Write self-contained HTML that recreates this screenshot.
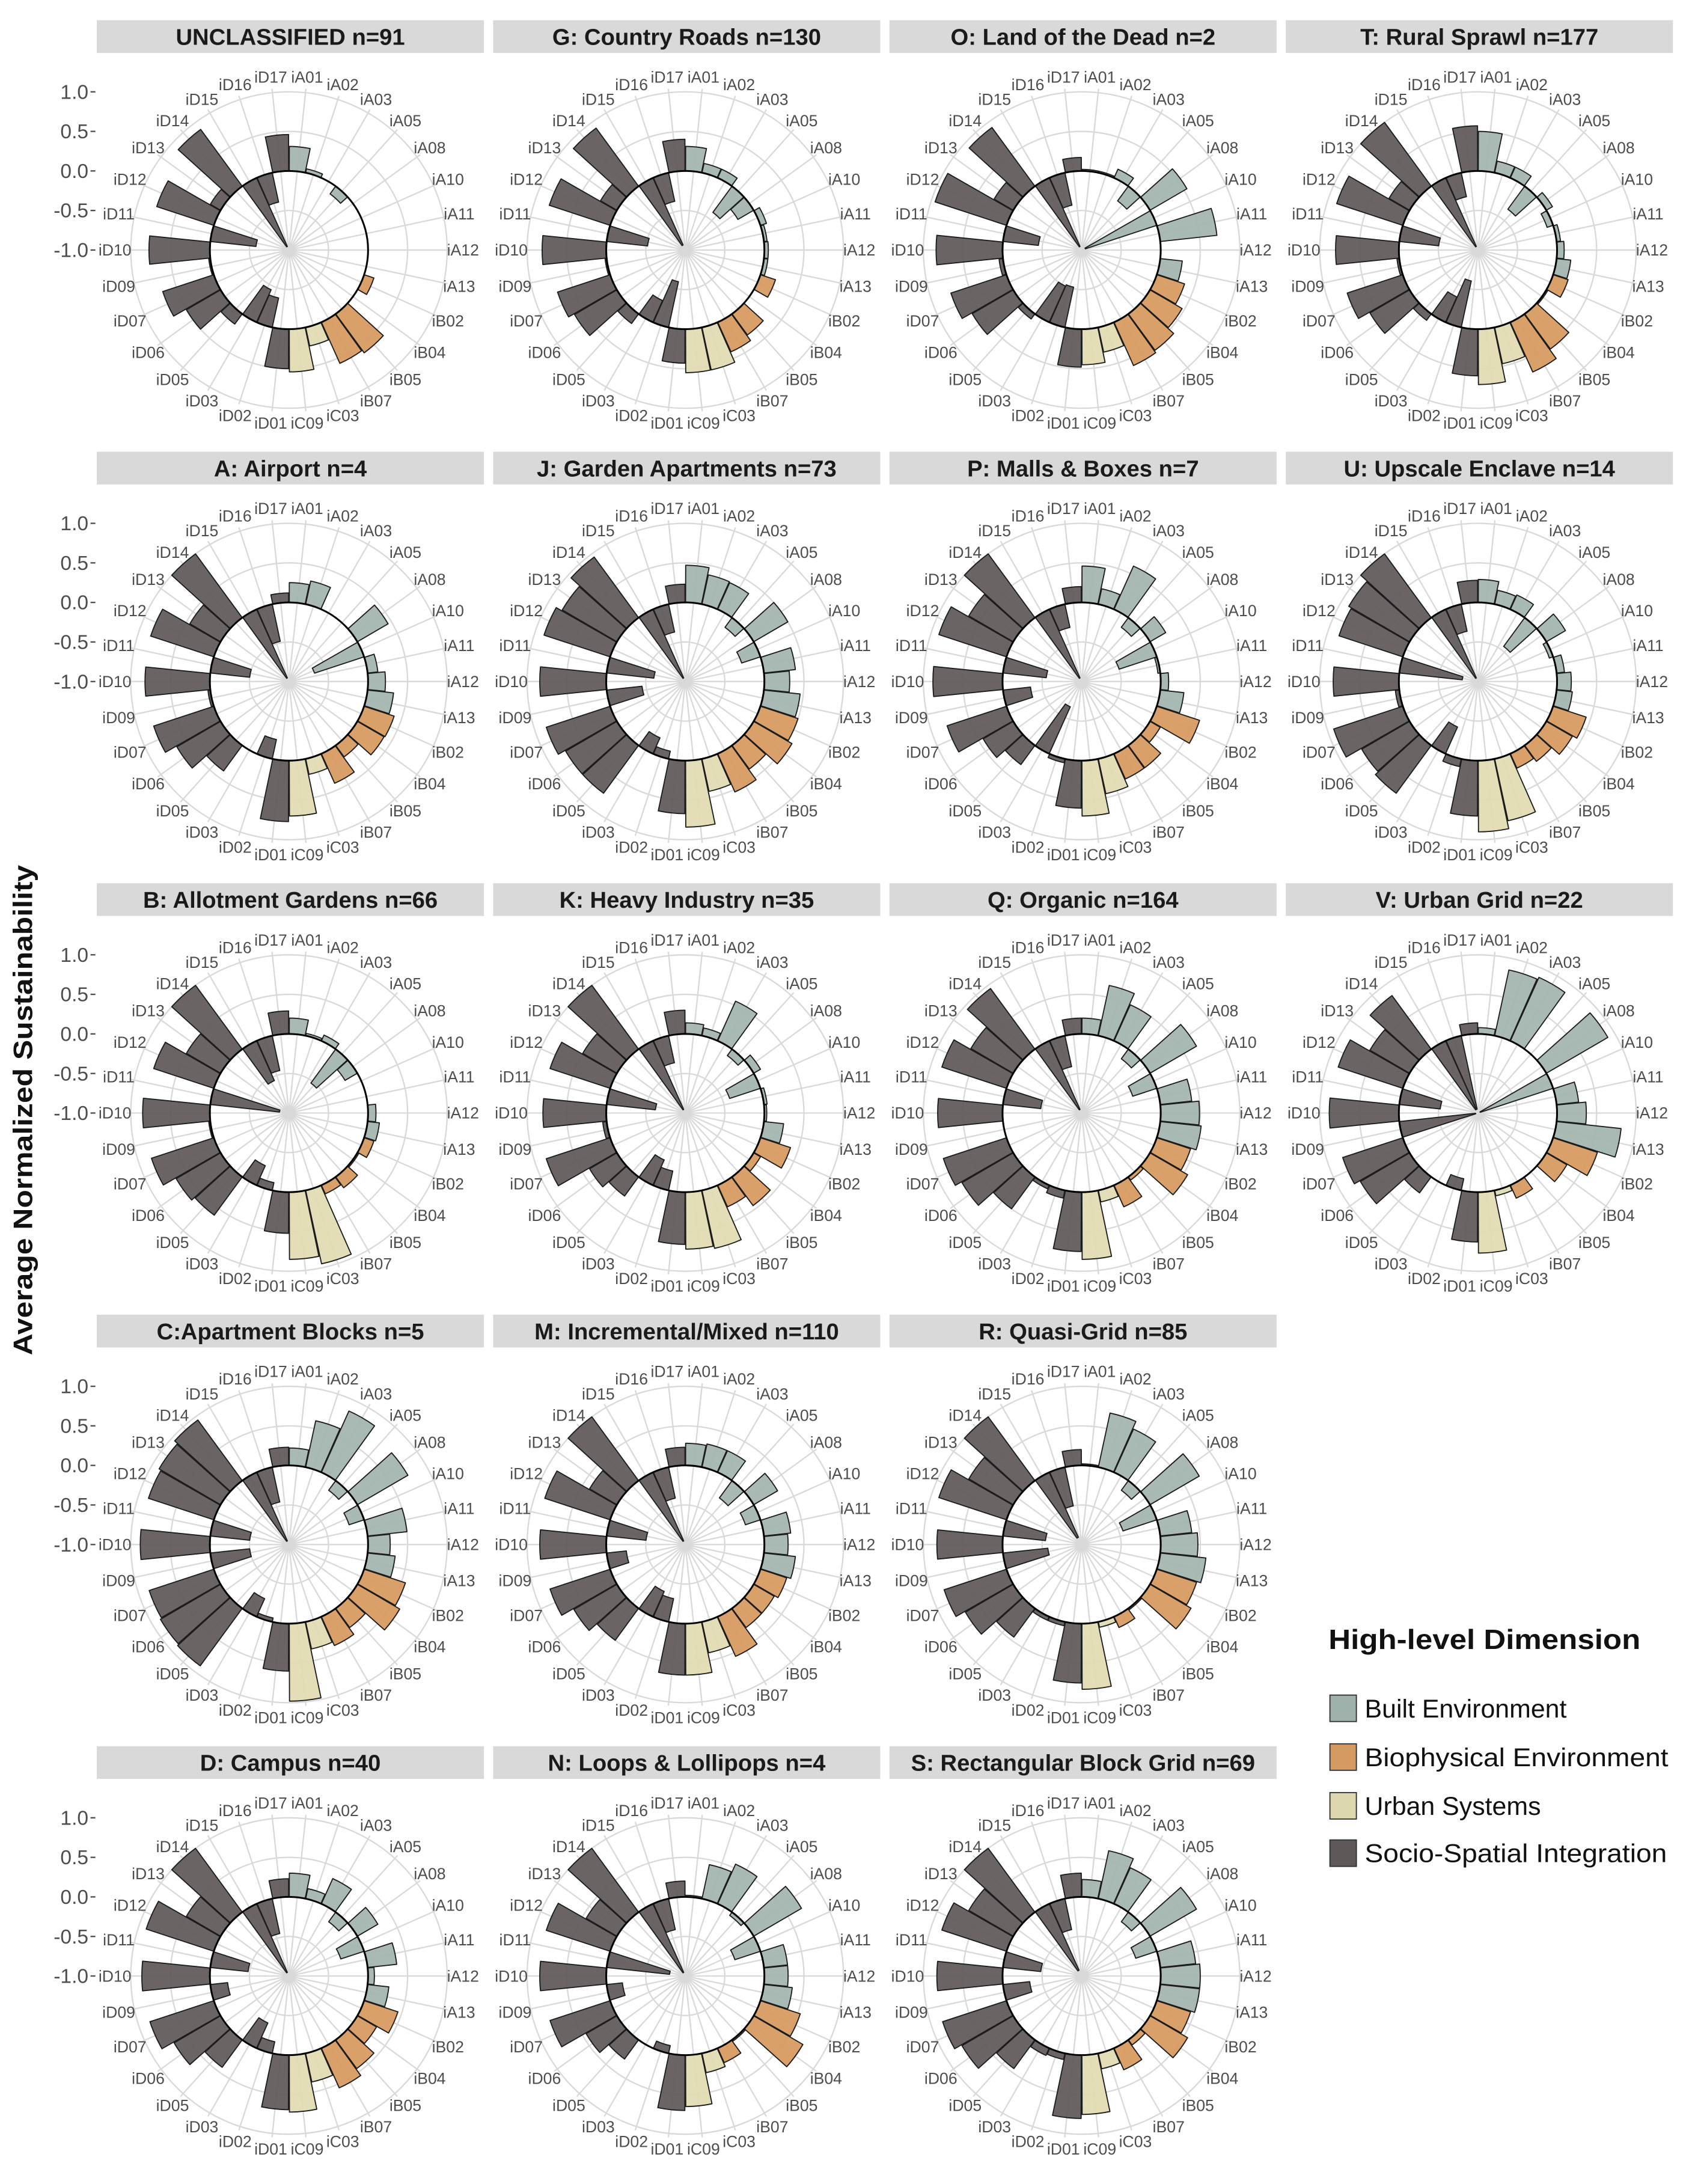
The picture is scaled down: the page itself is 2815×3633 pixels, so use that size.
<!DOCTYPE html>
<html>
<head>
<meta charset="utf-8">
<style>
  html, body { margin:0; padding:0; background:#ffffff; }
  svg { display:block; }
  text { font-family: "Liberation Sans", Arial, sans-serif; }
</style>
</head>
<body>
<svg id="chart" xmlns="http://www.w3.org/2000/svg" width="2815" height="3633" viewBox="0 0 1215 1568">
  <rect x="0" y="0" width="1215" height="1568" fill="#ffffff"/>
  <text x="0" y="0" transform="translate(23,797) rotate(-90)" text-anchor="middle" font-weight="bold" font-size="19" fill="#111" textLength="352" lengthAdjust="spacingAndGlyphs">Average Normalized Sustainability</text>
  <g>
    <text x="954" y="1184" font-weight="bold" font-size="20" fill="#111" textLength="224" lengthAdjust="spacingAndGlyphs">High-level Dimension</text>
    <rect x="955" y="1217" width="19" height="19" fill="#9fb1ab" stroke="#333" stroke-width="0.8"/>
    <text x="980" y="1233" font-size="18.5" fill="#111">Built Environment</text>
    <rect x="955" y="1252" width="19" height="19" fill="#d49a62" stroke="#333" stroke-width="0.8"/>
    <text x="980" y="1268" font-size="18.5" fill="#111" textLength="218" lengthAdjust="spacingAndGlyphs">Biophysical Environment</text>
    <rect x="955" y="1287" width="19" height="19" fill="#ddd7b0" stroke="#333" stroke-width="0.8"/>
    <text x="980" y="1303" font-size="18.5" fill="#111">Urban Systems</text>
    <rect x="955" y="1321" width="19" height="19" fill="#5e5859" stroke="#333" stroke-width="0.8"/>
    <text x="980" y="1337" font-size="18.5" fill="#111" textLength="217" lengthAdjust="spacingAndGlyphs">Socio-Spatial Integration</text>
  </g>
  <g id="panels"></g>
</svg>
<script>
// ---- data ----
const categories = ["iA01","iA02","iA03","iA05","iA08","iA10","iA11","iA12","iA13","iB02","iB04","iB05","iB07","iC03","iC09","iD01","iD02","iD03","iD05","iD06","iD07","iD09","iD10","iD11","iD12","iD13","iD14","iD15","iD16","iD17"];
const radialTicks = [1.0, 0.5, 0.0, -0.5, -1.0];
const radialTickLabels = ["1.0", "0.5", "0.0", "-0.5", "-1.0"];
const panelTitles = ["UNCLASSIFIED n=91","G: Country Roads n=130","O: Land of the Dead n=2","T: Rural Sprawl n=177",
  "A: Airport n=4","J: Garden Apartments n=73","P: Malls & Boxes n=7","U: Upscale Enclave n=14",
  "B: Allotment Gardens n=66","K: Heavy Industry n=35","Q: Organic n=164","V: Urban Grid n=22",
  "C:Apartment Blocks n=5","M: Incremental/Mixed n=110","R: Quasi-Grid n=85",
  "D: Campus n=40","N: Loops & Lollipops n=4","S: Rectangular Block Grid n=69"];
const valsUnclassified = [0.31,0.05,0,-0.12,0,0,0,0,0,0.13,0,0.61,0.57,0.24,0.54,0.5,-0.38,-0.45,0.16,0.5,0.68,0.02,0.77,-0.58,0.76,0.15,0.89,-0.95,-0.38,0.46];
const valsG = [0.31,0.12,0.12,-0.41,-0.23,0.08,0.04,0.05,0.05,0.2,0,0.33,0.41,0.55,0.55,0.43,-0.59,-0.3,0.15,0.62,0.7,0.02,0.81,-0.52,0.81,0.24,0.91,-0.93,-0.37,0.4];
const valsO = [0.02,0.02,0.12,-0.23,0.54,-0.95,0.72,0,0.28,0.37,0.47,0.57,0.6,0.32,0.45,0.48,-0.52,-0.5,0.08,0.6,0.74,0.05,0.84,-0.45,0.95,0.28,0.92,-0.95,-0.42,0.17];
const valsT = [0.5,0.15,0.15,-0.36,0.09,-0.08,0.05,0.09,0.18,0.2,0.02,0.55,0.69,0.47,0.7,0.59,-0.6,-0.35,0.1,0.58,0.74,0.03,0.8,-0.5,0.88,0.3,1.0,-0.95,-0.31,0.57];
const valsA = [0.25,0.3,0,0,0.45,-0.66,0.13,0.22,0.33,0.4,0.39,0.18,0.41,0.2,0.7,0.77,-0.25,0,0.4,0.64,0.8,0.03,0.82,-0.5,0.84,0.45,1.0,-0.95,-0.48,0.12];
const valsJ = [0.47,0.38,0.37,-0.15,0.5,-0.25,0.4,0.32,0.46,0.5,0.56,0.37,0.53,0.42,0.84,0.67,-0.1,-0.22,0.75,0.75,0.85,-0.45,0.84,-0.6,0.88,0.8,0.95,-0.95,-0.36,0.23];
const valsP = [0.46,0.2,0.6,-0.15,0.23,-0.5,-0.03,0.1,0.3,0.57,0.15,0.35,0.35,0.45,0.7,0.6,0.05,-0.65,0.3,0.44,0.79,-0.35,0.88,-0.55,0.9,0.65,1.0,-0.95,-0.3,0.2];
const valsU = [0.29,0.18,0.2,-0.45,0.28,-0.05,0.1,0.18,0.2,0.44,0.38,0.25,0.2,0.8,0.9,0.7,0.1,-0.37,0.75,0.7,0.92,0.05,0.83,-0.8,0.85,0.89,1.0,-0.95,-0.35,0.28];
const valsB = [0.2,0.03,0.08,-0.53,-0.18,0,0,0.1,0.15,0.13,0.02,0.17,0.12,0.95,0.85,0.52,-0.1,-0.27,0.6,0.65,0.83,0.02,0.85,-0.88,0.8,0.5,1.0,-0.55,-0.45,0.29];
const valsK = [0.14,0.1,0.55,-0.1,0.1,-0.41,0.04,0.03,0.25,0.4,0.1,0.45,0.3,0.75,0.72,0.66,-0.25,-0.35,0.3,0.4,0.85,0.05,0.8,-0.62,0.8,0.5,1.0,-0.95,-0.35,0.3];
const valsQ = [0.2,0.65,0.5,-0.15,0.68,-0.32,0.4,0.49,0.52,0.45,0.55,0.05,0.3,0.15,0.85,0.75,0.1,0.05,0.5,0.75,0.84,0,0.82,-0.48,0.86,0.62,0.95,-0.95,-0.4,0.2];
const valsV = [0.08,0.85,0.88,0,0.9,-0.97,0.28,0.37,0.82,0.59,0.3,0,0.18,0.07,0.77,0.63,-0.15,0,0.25,0.72,0.8,-0.97,0.88,-0.52,0.86,0.58,0.84,-0.95,-0.95,0.14];
const valsC = [0.22,0.6,0.85,-0.15,0.74,-0.2,0.5,0.28,0.35,0.55,0.62,0.3,0.4,0.35,0.98,0.6,-0.05,-0.25,0.9,0.88,0.86,-0.5,0.88,-0.5,0.87,0.9,0.95,-0.95,-0.45,0.23];
const valsM = [0.28,0.3,0.3,-0.27,0.35,-0.2,0.34,0.3,0.4,0.35,0.3,0.3,0.55,0.4,0.65,0.65,-0.3,-0.35,0.5,0.63,0.8,-0.25,0.84,-0.5,0.87,0.4,1.0,-0.95,-0.4,0.23];
const valsR = [0.02,0.7,0.6,-0.15,0.72,-0.45,0.4,0.47,0.58,0.53,0.6,0.02,0.15,0.07,0.83,0.75,0.05,0.05,0.45,0.7,0.83,-0.57,0.83,-0.54,0.9,0.65,1.0,-0.9,-0.5,0.2];
const valsD = [0.3,0.13,0.35,-0.15,0.3,-0.31,0.37,0.08,0.27,0.45,0.28,0.45,0.55,0.37,0.72,0.69,-0.15,-0.35,0.43,0.68,0.85,-0.22,0.86,-0.48,0.9,0.5,1.0,-0.95,-0.45,0.23];
const valsN = [0.02,0.44,0.55,-0.05,0.7,-0.34,0.3,0.3,0.36,0.53,0.72,0.02,0.2,0.25,0.65,0.7,-0.1,0,0.3,0.45,0.8,-0.2,0.84,-0.8,0.85,0.45,1.0,-0.95,-0.4,0.2];
const valsS = [0.22,0.62,0.5,-0.15,0.68,-0.28,0.45,0.5,0.5,0.45,0.55,0.08,0.3,0.2,0.75,0.8,0.08,0.1,0.45,0.75,0.85,-0.34,0.83,-0.48,0.86,0.65,1.0,-0.92,-0.4,0.3];
const panelValues = [valsUnclassified,valsG,valsO,valsT,valsA,valsJ,valsP,valsU,valsB,valsK,valsQ,valsV,valsC,valsM,valsR,valsD,valsN,valsS];

// ---- layout ----
const panelCols = [0,1,2,3, 0,1,2,3, 0,1,2,3, 0,1,2, 0,1,2];
const panelRows = [0,0,0,0, 1,1,1,1, 2,2,2,2, 3,3,3, 4,4,4];
const COL_X0 = 207.5, COL_DX = 284.6, ROW_Y0 = 179.5, ROW_DY = 309.8;
const UNIT = 56.8;          // pixels per 1.0 of value
const VMIN = -1.0;          // value at centre
const STEP = 360 / categories.length;
const fills = { A:"#a3b5af", B:"#d6995f", C:"#e2dcb3", D:"#5f5859" };

function rScale(v){ return (v - VMIN) * UNIT; }
function angOf(i){ return i * STEP; }
function pt(cx, cy, r, deg){ const a = deg * Math.PI / 180; return [cx + r * Math.sin(a), cy - r * Math.cos(a)]; }

const NS = "http://www.w3.org/2000/svg";
const root = document.getElementById("panels");
function mk(tag, attrs, parent){
  const el = document.createElementNS(NS, tag);
  for (const k in attrs) el.setAttribute(k, attrs[k]);
  parent.appendChild(el);
  return el;
}

panelTitles.forEach(function(title, p){
  const cx = COL_X0 + COL_DX * panelCols[p];
  const cy = ROW_Y0 + ROW_DY * panelRows[p];
  const vals = panelValues[p];
  const g = mk("g", {}, root);
  
  

  // strip
  const strip = mk("rect", {x: cx - 138, y: cy - 165, width: 278, height: 23.5, fill: "#d9d9d9"}, g);
  
  
  const st = mk("text", {x: cx + 1, y: cy - 147.3, "text-anchor": "middle", "font-size": "16.5", "font-weight": "bold", fill: "#1a1a1a"}, g);
  st.textContent = title;
  
  

  // grid circles
  [-0.5, 0.5, 1.0].forEach(function(v){
    const c = mk("circle", {cx: cx, cy: cy, r: rScale(v), fill: "none", stroke: "#d9d9d9", "stroke-width": 1}, g);
    
    
  });
  // spokes
  categories.forEach(function(cat, i){
    const e = pt(cx, cy, rScale(1.05), angOf(i) + STEP / 2);
    const l = mk("line", {x1: cx, y1: cy, x2: e[0], y2: e[1], stroke: "#d9d9d9", "stroke-width": 1}, g);
    
    
  });

  // bars
  categories.forEach(function(cat, i){
    const v = vals[i];
    const r0 = rScale(0), r1 = rScale(v);
    const rin = Math.max(0, Math.min(r0, r1)), rout = Math.max(r0, r1);
    const a0 = angOf(i) + 0.2, a1 = angOf(i + 1) - 0.2;
    const p1 = pt(cx, cy, rout, a0), p2 = pt(cx, cy, rout, a1);
    const p3 = pt(cx, cy, rin, a1), p4 = pt(cx, cy, rin, a0);
    const d = "M" + p1[0].toFixed(2) + "," + p1[1].toFixed(2) +
      " A" + rout + "," + rout + " 0 0 1 " + p2[0].toFixed(2) + "," + p2[1].toFixed(2) +
      " L" + p3[0].toFixed(2) + "," + p3[1].toFixed(2) +
      " A" + rin + "," + rin + " 0 0 0 " + p4[0].toFixed(2) + "," + p4[1].toFixed(2) + " Z";
    const bar = mk("path", {d: d, fill: fills[cat.charAt(1)], "fill-opacity": 0.93, stroke: "#1c1c1c", "stroke-width": 0.8, "stroke-linejoin": "round"}, g);
    
    
  });

  // zero circle
  const z = mk("circle", {cx: cx, cy: cy, r: rScale(0), fill: "none", stroke: "#000", "stroke-width": 1.3}, g);
  
  

  // category labels
  categories.forEach(function(cat, i){
    const q = pt(cx, cy, rScale(1.2), angOf(i) + STEP / 2);
    const t = mk("text", {x: q[0].toFixed(2), y: (q[1] + 4).toFixed(2), "text-anchor": "middle", "font-size": "11.5", fill: "#4d4d4d"}, g);
    t.textContent = cat;
    
    
  });

  // radial axis ticks for left column
  if (panelCols[p] === 0) {
    radialTicks.forEach(function(v, k){
      const y = cy - rScale(v);
      const tx = mk("text", {x: 63.5, y: (y + 5).toFixed(2), "text-anchor": "end", "font-size": "14.5", fill: "#4d4d4d"}, g);
      tx.textContent = radialTickLabels[k];
      
      
      const tk = mk("line", {x1: 65, y1: y, x2: 68.5, y2: y, stroke: "#4d4d4d", "stroke-width": 1}, g);
      
      
    });
  }
});
</script>
</body>
</html>
